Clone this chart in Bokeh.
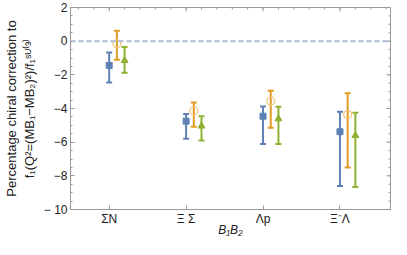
import math
from bokeh.plotting import figure
from bokeh.models import (ColumnDataSource, Range1d, FixedTicker, Whisker, TeeHead, Span)
from bokeh.embed import file_html
from bokeh.resources import INLINE

categories = ["ΣN", "Ξ Σ", "Λp", "Ξ⁻Λ"]
cat_pos = [1, 2, 3, 4]

blue_val = [-1.44, -4.75, -4.46, -5.38]
blue_hi = [-0.67, -4.33, -3.88, -4.19]
blue_lo = [-2.46, -5.80, -6.11, -8.61]

orange_val = [-0.15, -4.13, -3.55, -4.36]
orange_hi = [0.62, -3.65, -2.94, -3.09]
orange_lo = [-1.11, -5.09, -5.15, -7.50]

green_val = [-1.15, -5.04, -4.61, -5.61]
green_hi = [-0.35, -4.46, -3.90, -4.25]
green_lo = [-1.88, -5.90, -6.11, -8.67]

y_ticks = [2, 0, -2, -4, -6, -8, -10]
y_minor = [v / 2 for v in range(-20, 5)]
y_tick_labels = {2: "2", 0: "0", -2: "−2", -4: "−4", -6: "−6", -8: "−8", -10: "− 10"}
x_top_minor = [v / 5 for v in range(3, 24)]

BLUE = "#5E81B5"
ORANGE = "#E19C24"
GREEN = "#8FB131"
FRAME = "#9a9a9a"
FONT = "Liberation Sans"

xr = Range1d(0.497, 4.657)
yrng = Range1d(-10, 2)
p = figure(width=391, height=239, output_backend="svg", toolbar_location=None,
           x_range=xr, y_range=yrng,
           min_border_left=0, min_border_right=1, min_border_top=7, min_border_bottom=0)
p.xgrid.visible = False
p.ygrid.visible = False
p.outline_line_color = FRAME
p.outline_line_width = 1

# zero line
p.add_layout(Span(location=0, dimension="width", line_color="#a9bad9",
                  line_width=2, line_dash="5 3"))

series = [
    (blue_val, blue_hi, blue_lo, BLUE, 0.0, "square"),
    (orange_val, orange_hi, orange_lo, ORANGE, 0.1, "circle"),
    (green_val, green_hi, green_lo, GREEN, 0.2, "triangle"),
]
for val, hi, lo, col, off, marker in series:
    src = ColumnDataSource(dict(x=[c + off for c in cat_pos], y=val, hi=hi, lo=lo))
    w = Whisker(source=src, base="x", upper="hi", lower="lo", dimension="height",
                line_color=col, line_width=2,
                upper_head=TeeHead(size=6, line_color=col, line_width=2),
                lower_head=TeeHead(size=6, line_color=col, line_width=2))
    p.add_layout(w)
    if marker == "circle":
        p.scatter("x", "y", source=src, marker="circle", size=8, fill_color="white",
                  fill_alpha=0.0, line_color="#f0c27a", line_width=1.2)
    elif marker == "square":
        p.scatter("x", "y", source=src, marker="square", size=6, fill_color=col,
                  line_color=col)
    else:
        p.scatter("x", "y", source=src, marker="triangle", size=7, fill_color=col,
                  line_color=col)

def style_axis(ax):
    ax.axis_line_color = FRAME
    ax.major_tick_line_color = FRAME
    ax.minor_tick_line_color = FRAME
    ax.major_tick_in = 4
    ax.major_tick_out = 0
    ax.minor_tick_in = 2
    ax.minor_tick_out = 0
    ax.major_label_text_font = FONT
    ax.major_label_text_font_size = "12px"
    ax.major_label_text_color = "#222222"
    ax.axis_label_text_font = FONT
    ax.axis_label_text_font_size = "13px"
    ax.axis_label_text_color = "#222222"
    ax.axis_label_text_font_style = "normal"

# left axis
yl = p.yaxis[0]
style_axis(yl)
yl.ticker = FixedTicker(ticks=y_ticks, minor_ticks=y_minor)
yl.major_label_overrides = y_tick_labels
yl.major_label_standoff = 3
yl.axis_label = "Percentage chiral correction to\nf₁(Q²=(MB₁−MB₂)²)/f₁ˢᵁ⁽³⁾"
yl.axis_label_standoff = 4

# bottom axis
xb = p.xaxis[0]
style_axis(xb)
xb.ticker = FixedTicker(ticks=cat_pos, minor_ticks=[])
xb.major_label_overrides = {c: n for c, n in zip(cat_pos, categories)}
xb.major_label_standoff = 2
xb.axis_label = "B₁B₂"
xb.axis_label_text_font_size = "12px"
xb.axis_label_text_font_style = "italic"
xb.axis_label_standoff = -6

# right frame ticks (inward)
p.ray(x=[xr.end] * len(y_ticks), y=y_ticks, length=4, angle=math.pi,
      length_units="screen", line_color=FRAME, line_width=1)
p.ray(x=[xr.end] * len(y_minor), y=y_minor, length=2, angle=math.pi,
      length_units="screen", line_color=FRAME, line_width=1)
# top frame ticks (inward)
p.ray(x=cat_pos, y=[yrng.end] * len(cat_pos), length=4, angle=-math.pi / 2,
      length_units="screen", line_color=FRAME, line_width=1)
p.ray(x=x_top_minor, y=[yrng.end] * len(x_top_minor), length=2, angle=-math.pi / 2,
      length_units="screen", line_color=FRAME, line_width=1)

open("out.html", "w").write(file_html(p, INLINE))
